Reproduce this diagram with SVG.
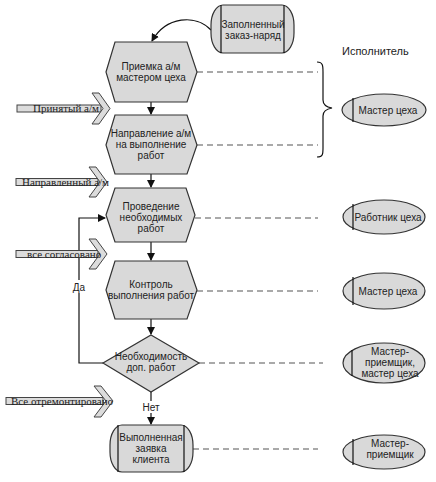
<svg xmlns="http://www.w3.org/2000/svg" width="436" height="482" viewBox="0 0 436 482">
<style>
.shape{fill:#d9d9d9;stroke:#333;stroke-width:1.2}
.line{fill:none;stroke:#111;stroke-width:1.2}
.dash{fill:none;stroke:#555;stroke-width:1.2;stroke-dasharray:6 4}
.t{font-family:"Liberation Sans",Arial,sans-serif;font-size:10px;fill:#222;text-anchor:middle}
.ts{font-family:"Liberation Serif","Times New Roman",serif;font-size:11px;fill:#222}
.fat{fill:#dcdcdc;stroke:#444;stroke-width:1}
</style>
<defs>
<marker id="ah" markerWidth="8" markerHeight="8" refX="7" refY="4" orient="auto" markerUnits="userSpaceOnUse">
<path d="M0,0 L8,4 L0,8 Z" fill="#111"/>
</marker>
</defs>
<rect width="436" height="482" fill="#fff"/>

<g id="connectors">
<path class="line" d="M211,30 C196,14 166,16 152,41" marker-end="url(#ah)"/>
<line class="line" x1="151" y1="102" x2="151" y2="114" marker-end="url(#ah)"/>
<line class="line" x1="151" y1="174" x2="151" y2="187" marker-end="url(#ah)"/>
<line class="line" x1="151" y1="242" x2="151" y2="260" marker-end="url(#ah)"/>
<line class="line" x1="151" y1="319" x2="151" y2="334" marker-end="url(#ah)"/>
<line class="line" x1="151" y1="392" x2="151" y2="424" marker-end="url(#ah)"/>
<polyline class="line" points="103,363 79,363 79,218 105,218" marker-end="url(#ah)"/>
<rect x="71" y="280" width="16" height="13" fill="#fff"/>
<text class="t" x="79" y="291">Да</text>
<rect x="141" y="401" width="20" height="12" fill="#fff"/>
<text class="t" x="151" y="411">Нет</text>
<line class="dash" x1="197" y1="72" x2="318" y2="72"/>
<line class="dash" x1="197" y1="145" x2="318" y2="145"/>
<line class="dash" x1="195" y1="218" x2="318" y2="218"/>
<line class="dash" x1="197" y1="291" x2="318" y2="291"/>
<line class="dash" x1="199" y1="363" x2="323" y2="363"/>
<line class="dash" x1="193" y1="449" x2="318" y2="449"/>
<path class="line" stroke="#333" d="M317,62 C323,62 323,66 323,72 L323,100 C323,105 326,107 332,108 C326,109 323,111 323,116 L323,148 C323,154 323,157 317,157"/>
</g>

<g id="event-start">
<rect class="shape" x="211" y="5" width="83" height="48" rx="12" ry="20"/>
<line class="line" stroke="#333" x1="221" y1="5" x2="221" y2="53"/>
<line class="line" stroke="#333" x1="284" y1="5" x2="284" y2="53"/>
<text class="t" x="253" y="28">Заполненный</text>
<text class="t" x="253" y="39">заказ-наряд</text>
</g>

<g id="hex1">
<polygon class="shape" points="106,72 115,42 187,42 197,72 187,102 115,102"/>
<text class="t" x="151" y="70">Приемка а/м</text>
<text class="t" x="151" y="81">мастером цеха</text>
</g>

<g id="hex2">
<polygon class="shape" points="106,145 115,115 187,115 197,145 187,174 115,174"/>
<text class="t" x="151" y="137">Направление а/м</text>
<text class="t" x="151" y="148">на выполнение</text>
<text class="t" x="151" y="159">работ</text>
</g>

<g id="hex3">
<polygon class="shape" points="106,215 115,188 186,188 195,215 186,242 115,242"/>
<text class="t" x="151" y="210">Проведение</text>
<text class="t" x="151" y="221">необходимых</text>
<text class="t" x="151" y="232">работ</text>
</g>

<g id="hex4">
<polygon class="shape" points="106,290 115,261 187,261 197,290 187,319 115,319"/>
<text class="t" x="151" y="288">Контроль</text>
<text class="t" x="151" y="299">выполнения работ</text>
</g>

<g id="decision">
<polygon class="shape" points="151,335 199,363 151,392 103,363"/>
<text class="t" x="151" y="360">Необходимость</text>
<text class="t" x="151" y="371">доп. работ</text>
</g>

<g id="event-end">
<rect class="shape" x="110" y="425" width="83" height="47" rx="12" ry="20"/>
<line class="line" stroke="#333" x1="118" y1="425" x2="118" y2="472"/>
<line class="line" stroke="#333" x1="184" y1="425" x2="184" y2="472"/>
<text class="t" x="151" y="441">Выполненная</text>
<text class="t" x="151" y="452">заявка</text>
<text class="t" x="151" y="463">клиента</text>
</g>

<g id="input1">
<rect class="fat" x="17" y="105" width="84" height="7"/>
<polygon class="fat" points="92,93 99,93 110,108.5 99,124 92,124 103,108.5"/>
<text class="ts" x="33" y="112">Принятый а/м</text>
</g>
<g id="input2">
<rect class="fat" x="16" y="178.5" width="82" height="7"/>
<polygon class="fat" points="89,167 96,167 107,182 96,197 89,197 100,182"/>
<text class="ts" x="22" y="186">Направленный а/м</text>
</g>
<g id="input3">
<rect class="fat" x="16" y="250.5" width="82" height="7"/>
<polygon class="fat" points="89,239 96,239 107,254 96,269 89,269 100,254"/>
<text class="ts" x="27" y="258">все согласовано</text>
</g>
<g id="input4">
<rect class="fat" x="6" y="397.5" width="97" height="7"/>
<polygon class="fat" points="94,386 101,386 113,401 101,417 94,417 106,401"/>
<text class="ts" x="11" y="405">Все отремонтировано</text>
</g>

<text class="t" style="text-anchor:start;font-size:11px" x="342" y="55">Исполнитель</text>

<g id="role1">
<ellipse class="shape" cx="384" cy="110" rx="42" ry="16"/>
<line class="line" stroke="#333" x1="353" y1="98" x2="353" y2="122"/>
<text class="t" x="388" y="114">Мастер цеха</text>
</g>
<g id="role2">
<ellipse class="shape" cx="384" cy="217" rx="41" ry="17"/>
<line class="line" stroke="#333" x1="353" y1="204" x2="353" y2="230"/>
<text class="t" x="388" y="221">Работник цеха</text>
</g>
<g id="role3">
<ellipse class="shape" cx="384" cy="291" rx="41" ry="18"/>
<line class="line" stroke="#333" x1="353" y1="277" x2="353" y2="305"/>
<text class="t" x="388" y="295">Мастер цеха</text>
</g>
<g id="role4">
<ellipse class="shape" cx="384" cy="363" rx="41" ry="20"/>
<line class="line" stroke="#333" x1="352" y1="350" x2="352" y2="376"/>
<text class="t" x="390" y="355">Мастер-</text>
<text class="t" x="390" y="366">приемщик,</text>
<text class="t" x="390" y="377">мастер цеха</text>
</g>
<g id="role5">
<ellipse class="shape" cx="384" cy="452" rx="41" ry="17"/>
<line class="line" stroke="#333" x1="353" y1="439" x2="353" y2="465"/>
<text class="t" x="390" y="447">Мастер-</text>
<text class="t" x="390" y="458">приемщик</text>
</g>
</svg>
